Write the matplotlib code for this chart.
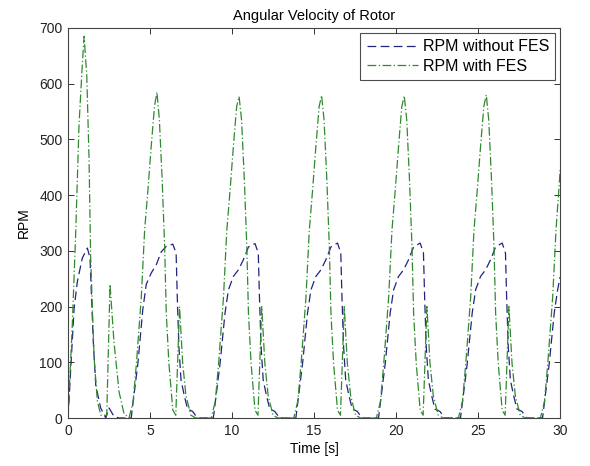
import matplotlib
matplotlib.use('Agg')
import matplotlib.pyplot as plt

## Values: time [s] and RPM for each series
t_without = [0.00, 0.20, 0.37, 0.57, 0.87, 1.18, 1.34, 1.42, 1.54, 1.69, 1.99, 2.30, 2.50, 2.80, 3.10,
             3.85, 4.26, 4.56, 4.77, 5.07, 5.38, 5.68, 5.99, 6.39, 6.59, 6.66, 6.76, 6.89, 7.09, 7.29, 7.59, 7.89,
             8.86, 9.27, 9.57, 9.78, 10.08, 10.39, 10.69, 11.00, 11.40, 11.60, 11.67, 11.77, 11.90, 12.10, 12.30, 12.60, 12.90,
             13.89, 14.30, 14.60, 14.81, 15.11, 15.42, 15.72, 16.03, 16.43, 16.63, 16.70, 16.80, 16.93, 17.13, 17.33, 17.63, 17.93,
             18.93, 19.34, 19.64, 19.85, 20.15, 20.46, 20.76, 21.07, 21.47, 21.67, 21.74, 21.84, 21.97, 22.17, 22.37, 22.67, 22.97,
             23.93, 24.34, 24.64, 24.85, 25.15, 25.46, 25.76, 26.07, 26.47, 26.67, 26.74, 26.84, 26.97, 27.17, 27.37, 27.67, 27.97,
             28.93, 29.34, 29.64, 29.85, 30.00]
rpm_without = [0, 107, 197, 245, 287, 305, 287, 227, 137, 59, 18, 0, 18, 3, 0,
               0, 98, 195, 240, 260, 275, 298, 308, 312, 296, 218, 128, 68, 40, 16, 12, 0,
               0, 98, 188, 230, 254, 266, 284, 307, 313, 296, 218, 128, 68, 40, 16, 12, 0,
               0, 98, 188, 230, 254, 266, 284, 307, 314, 296, 218, 128, 68, 40, 16, 12, 0,
               0, 98, 188, 230, 254, 266, 284, 307, 314, 296, 218, 128, 68, 40, 16, 12, 0,
               0, 98, 188, 230, 254, 266, 284, 307, 314, 296, 218, 128, 68, 40, 16, 12, 0,
               0, 98, 188, 230, 253]

t_with = [0.00, 0.26, 0.47, 0.67, 0.87, 0.98, 1.14, 1.28, 1.38, 1.59, 1.79, 2.00, 2.36, 2.56, 2.80, 3.11, 3.41,
          3.72, 3.97, 4.17, 4.47, 4.67, 4.87, 5.07, 5.27, 5.42, 5.57, 5.74, 5.89, 5.99, 6.15, 6.39, 6.57, 6.80, 6.99, 7.19, 7.49, 7.79,
          8.73, 8.98, 9.18, 9.48, 9.68, 9.88, 10.08, 10.28, 10.43, 10.58, 10.75, 10.90, 11.00, 11.16, 11.40, 11.58, 11.81, 12.00, 12.20, 12.50, 12.80,
          13.76, 14.01, 14.21, 14.51, 14.71, 14.91, 15.11, 15.31, 15.46, 15.61, 15.78, 15.93, 16.03, 16.19, 16.43, 16.61, 16.84, 17.03, 17.23, 17.53, 17.83,
          18.80, 19.05, 19.25, 19.55, 19.75, 19.95, 20.15, 20.35, 20.50, 20.65, 20.82, 20.97, 21.07, 21.23, 21.47, 21.65, 21.88, 22.07, 22.27, 22.57, 22.87,
          23.80, 24.05, 24.25, 24.55, 24.75, 24.95, 25.15, 25.35, 25.50, 25.65, 25.82, 25.97, 26.07, 26.23, 26.47, 26.65, 26.88, 27.07, 27.27, 27.57, 27.87,
          28.80, 29.05, 29.25, 29.55, 29.75, 29.95, 30.00]
rpm_with = [0, 167, 334, 526, 634, 685, 616, 467, 287, 108, 30, 5, 5, 240, 137, 47, 8,
            0, 30, 98, 218, 337, 409, 487, 559, 585, 535, 427, 308, 188, 98, 14, 5, 200, 98, 40, 5, 0,
            0, 30, 98, 218, 337, 409, 487, 559, 577, 535, 427, 308, 188, 98, 14, 5, 200, 98, 40, 5, 0,
            0, 30, 98, 218, 337, 409, 487, 559, 579, 535, 427, 308, 188, 98, 14, 5, 200, 98, 40, 5, 0,
            0, 30, 98, 218, 337, 409, 487, 559, 578, 535, 427, 308, 188, 98, 14, 5, 200, 98, 40, 5, 0,
            0, 30, 98, 218, 337, 409, 487, 559, 580, 535, 427, 308, 188, 98, 14, 5, 200, 98, 40, 5, 0,
            0, 30, 98, 218, 337, 420, 445]

x_ticks = [0, 5, 10, 15, 20, 25, 30]
y_ticks = [0, 100, 200, 300, 400, 500, 600, 700]

plt.rcParams['font.family'] = ['Liberation Sans', 'DejaVu Sans']
plt.rcParams['font.size'] = 10

fig = plt.figure(figsize=(5.9, 4.66), dpi=100)
ax = fig.add_axes([0.1153, 0.103, 0.834, 0.837])

ax.plot(t_without, rpm_without, color='#23237f', lw=0.9, dashes=(7, 3.5), label='RPM without FES')
ax.plot(t_with, rpm_with, color='#2f8a2f', lw=0.9, dashes=(7, 2, 1, 2), label='RPM with FES')

ax.set_xlim(0, 30)
ax.set_ylim(0, 700)
ax.set_xticks(x_ticks)
ax.set_yticks(y_ticks)
ax.tick_params(direction='in', top=True, right=True, length=4, width=0.7, colors='#333333',
               labelcolor='#222222', labelsize=10, pad=4)
for s in ax.spines.values():
    s.set_color('#444444')
    s.set_linewidth(0.8)

ax.set_title('Angular Velocity of Rotor', fontsize=10.5, pad=6)
ax.set_xlabel('Time [s]', fontsize=10, labelpad=3)
ax.set_ylabel('RPM', fontsize=10, labelpad=6)

leg = ax.legend(loc='upper right', fancybox=False, handlelength=3.2, borderpad=0.4,
                labelspacing=0.3, handletextpad=0.3, fontsize=11.5, borderaxespad=0.3)
leg.get_frame().set_edgecolor('#222222')
leg.get_frame().set_linewidth(0.8)

plt.savefig('out.png', dpi=100)
